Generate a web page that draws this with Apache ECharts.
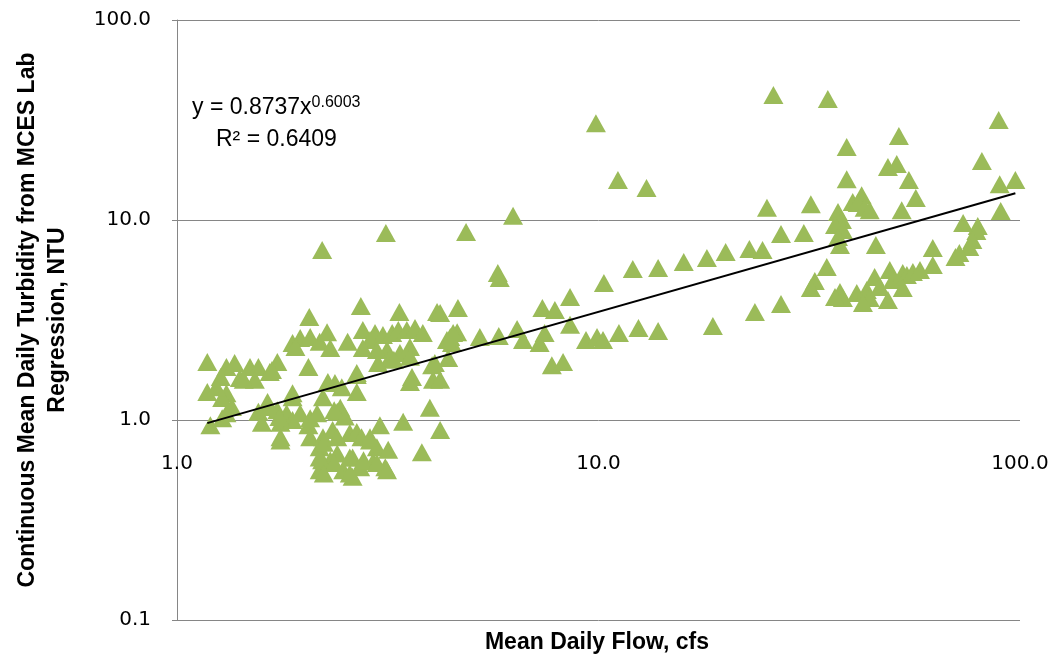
<!DOCTYPE html>
<html>
<head>
<meta charset="utf-8">
<script src="https://cdn.jsdelivr.net/npm/echarts@6/dist/echarts.min.js"></script>
<style>html,body{margin:0;padding:0;background:#fff;}#chart{width:1055px;height:656px;}</style>
</head>
<body>
<div id="chart"></div>
<script>
const flow = [
1.18,1.31,1.37,1.49,1.56,1.73,1.66,1.27,1.41,1.53,1.18,1.31,1.28,1.35,1.20,1.28,1.56,1.64,1.73,1.82,
1.59,1.76,1.88,1.96,2.05,1.76,2.07,2.18,2.21,2.18,1.88,2.05,1.88,1.96,2.07,2.18,2.22,2.28,2.21,3.13,
2.73,2.06,3.37,4.14,4.64,2.27,2.31,2.54,2.76,2.87,2.95,3.08,3.24,3.35,3.51,3.67,3.83,2.76,3.15,3.20,
3.00,3.38,3.57,4.45,4.62,4.49,4.40,4.03,3.61,4.05,2.67,2.67,2.37,2.46,3.98,4.21,3.44,3.03,2.40,2.44,
2.50,3.81,2.22,2.34,2.57,2.67,2.74,2.87,2.98,3.17,3.12,2.92,2.72,2.61,2.40,2.31,2.48,2.61,1.91,1.68,
2.67,3.27,3.57,4.09,2.98,3.57,1.66,1.75,1.88,2.07,2.15,2.36,1.76,2.23,2.40,2.87,2.18,2.36,2.57,2.77,
2.98,3.15,2.23,2.57,1.24,1.44,1.31,
4.85,6.27,5.77,5.83,4.21,4.37,4.21,5.23,5.80,6.41,6.62,7.25,7.45,7.36,7.88,8.56,8.56,9.34,9.92,10.25,
7.75,8.24,11.18,12.44,13.85,18.68,10.30,12.06,13.85,15.93,18.08,20.03,9.86,11.12,13.0,4.52,
26.0,35.0,51.6,89.0,38.8,48.6,51.0,81.2,38.8,54.5,42.1,40.1,41.2,42.8,56.6,89.5,97.5,25.1,31.9,37.0,
37.8,36.4,38.0,37.0,37.4,52.4,44.0,90.0,22.8,24.5,27.1,30.7,45.5,62.1,73.3,79.4,78.8,77.1,75.8,70.3,
71.8,62.1,34.8,32.6,31.9,37.4,38.0,36.4,41.0,43.3,44.0,42.4,45.2,46.5,49.1,49.9,52.7,53.9,55.7,57.9,
52.7,48.6,27.1,23.5
];
const turbidity = [
1.95,1.84,1.93,1.84,1.84,1.95,1.74,1.64,1.62,1.59,1.38,1.36,1.29,1.16,0.94,1.02,1.10,1.23,1.12,1.08,
0.97,0.97,1.00,1.08,0.94,0.82,0.82,0.73,0.63,0.56,1.36,1.84,2.43,2.57,2.60,2.46,1.30,1.55,7.08,8.61,
3.72,3.27,3.47,3.47,3.63,2.75,2.29,2.46,2.82,2.51,2.72,2.66,2.72,2.82,2.82,2.88,2.72,2.29,2.24,2.04,
1.93,2.16,2.32,2.60,2.75,2.43,2.04,1.88,1.64,1.59,1.68,1.38,1.53,1.46,1.15,0.89,0.98,0.94,1.10,1.15,
1.04,0.69,0.82,0.89,0.86,0.87,0.82,0.79,0.73,0.71,0.58,0.62,0.58,0.65,0.68,0.63,0.56,0.52,2.32,1.78,
1.72,2.00,2.07,1.93,2.24,1.55,1.16,1.035,1.30,1.02,1.08,1.12,0.79,0.77,0.82,0.82,0.65,0.61,0.65,0.63,
0.61,0.56,0.54,0.54,1.46,1.59,1.08,
8.71,10.5,5.43,5.13,3.43,2.51,1.59,2.60,2.63,2.85,2.51,2.43,2.72,3.63,3.55,4.12,2.99,2.51,2.60,2.51,
1.88,1.95,2.72,2.88,2.79,2.95,4.84,5.69,5.75,6.17,6.46,6.92,30.5,15.85,14.45,2.72,
42.2,40.3,26.3,31.6,23.2,18.4,19.05,19.7,16.0,15.85,13.3,12.3,12.16,11.5,12.9,15.1,15.85,11.5,12.0,10.96,
10.0,9.44,8.91,8.22,7.50,11.2,11.2,11.1,7.16,7.08,8.51,8.61,7.5,7.24,9.66,9.33,8.81,7.94,7.33,6.53,
6.84,5.96,5.82,4.95,4.57,4.37,4.07,4.12,4.32,4.47,4.07,3.85,5.19,4.62,5.62,5.01,5.43,5.31,5.50,5.62,
4.57,3.98,3.80,3.47
];
const trendFlow = [1.18, 97.5];
const trendTurbidity = [0.965, 13.6];
const xTickLabels = ['1.0', '10.0', '100.0'];
const yTickLabels = ['0.1', '1.0', '10.0', '100.0'];
const yTitle = 'Continuous Mean Daily Turbidity from MCES Lab\nRegression, NTU';
const xTitle = 'Mean Daily Flow, cfs';
const equationBase = 'y = 0.8737x';
const equationExp = '0.6003';
const rSquared = 'R² = 0.6409';

const points = flow.map((f, i) => [f, turbidity[i]]);
const trend = trendFlow.map((f, i) => [f, trendTurbidity[i]]);

const chart = echarts.init(document.getElementById('chart'), null, {renderer: 'canvas'});
const gray = '#868686';
chart.setOption({
  animation: false,
  backgroundColor: '#ffffff',
  grid: {left: 177, right: 35, top: 20, bottom: 36, containLabel: false},
  xAxis: {
    type: 'log', logBase: 10, min: 1, max: 100,
    offset: -174,
    axisLine: {show: false}, axisTick: {show: false}, splitLine: {show: false},
    axisLabel: {
      margin: 8, fontFamily: 'DejaVu Sans', fontSize: 20, color: '#000',
      showMinLabel: true, showMaxLabel: true,
      formatter: v => { const i = Math.round(Math.log10(v)); return xTickLabels[i]; }
    }
  },
  yAxis: {
    type: 'log', logBase: 10, min: 0.1, max: 100,
    axisLine: {show: true, lineStyle: {color: gray, width: 1}},
    axisTick: {show: true, inside: false, length: 5, lineStyle: {color: gray}},
    splitLine: {show: true, lineStyle: {color: gray, width: 1}},
    axisLabel: {
      margin: 26, fontFamily: 'DejaVu Sans', fontSize: 20, color: '#000',
      padding: [6, 0, 0, 0],
      showMinLabel: true, showMaxLabel: true,
      formatter: v => { const i = Math.round(Math.log10(v)) + 1; return yTickLabels[i]; }
    }
  },
  series: [
    {
      type: 'scatter', data: points, symbol: 'triangle', symbolSize: [20, 18],
      itemStyle: {color: '#9BBB59', opacity: 1}, z: 2
    },
    {
      type: 'line', data: trend, symbol: 'none', z: 3,
      lineStyle: {color: '#000', width: 2}
    }
  ],
  graphic: [
    {
      type: 'text', rotation: Math.PI / 2, x: 43, y: 320,
      style: {
        text: yTitle, font: 'bold 23px "Liberation Sans", Arial, sans-serif',
        fill: '#000', align: 'center', verticalAlign: 'middle', lineHeight: 30
      }
    },
    {
      type: 'text', x: 597, y: 643,
      style: {
        text: xTitle, font: 'bold 23px "Liberation Sans", Arial, sans-serif',
        fill: '#000', align: 'center', verticalAlign: 'middle'
      }
    },
    {
      type: 'text', x: 192, y: 108,
      style: {
        text: '{a|' + equationBase + '}{b|' + equationExp + '}',
        verticalAlign: 'middle', align: 'left',
        rich: {
          a: {fontFamily: '"Liberation Sans", Arial, sans-serif', fontSize: 23, fill: '#000', color: '#000', lineHeight: 26},
          b: {fontFamily: '"Liberation Sans", Arial, sans-serif', fontSize: 16, fill: '#000', color: '#000', verticalAlign: 'top', lineHeight: 26, padding: [0, 0, 8, 0]}
        }
      }
    },
    {
      type: 'text', x: 216, y: 140,
      style: {
        text: rSquared, font: '23px "Liberation Sans", Arial, sans-serif',
        fill: '#000', align: 'left', verticalAlign: 'middle'
      }
    }
  ]
});
</script>
</body>
</html>
